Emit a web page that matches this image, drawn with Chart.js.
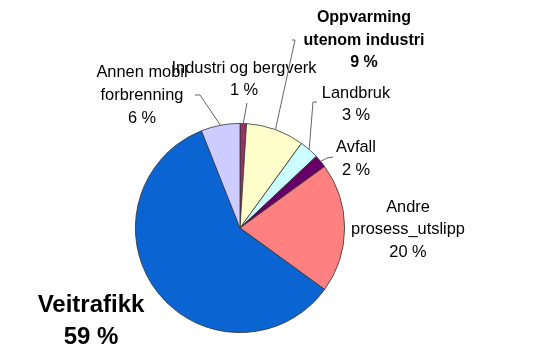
<!DOCTYPE html>
<html><head><meta charset="utf-8">
<script src="https://cdn.jsdelivr.net/npm/chart.js@4/dist/chart.umd.min.js"></script>
<style>html,body{margin:0;padding:0;background:#fff}#wrap{width:540px;height:358px;position:relative}</style>
</head><body><div id="wrap"><canvas id="c" width="540" height="358"></canvas></div>
<script>
const categories = ["Industri og bergverk", "Oppvarming\nutenom industri", "Landbruk", "Avfall", "Andre\nprosess_utslipp", "Veitrafikk", "Annen mobil\nforbrenning"];
const values = [1, 9, 3, 2, 20, 59, 6];
const colors = ["#993366", "#FFFFCC", "#CCFFFF", "#660066", "#FF8080", "#0A64D2", "#CCCCFF"];

// label layout (text centre x, first-line y, line height, font, leader elbow points)
const labelLayout = [
  {x: 244, y: 68, lh: 22, font: "16.4px 'Liberation Sans', Arial", leader: [[247, 103]]},
  {x: 364, y: 18, lh: 22.5, font: "bold 16px 'Liberation Sans', Arial", leader: [[295, 40], [292, 40]]},
  {x: 356, y: 93, lh: 22, font: "16.4px 'Liberation Sans', Arial", leader: [[313, 102], [317, 102]]},
  {x: 356, y: 147, lh: 23, font: "16.4px 'Liberation Sans', Arial", leader: [[327, 158], [333, 157]]},
  {x: 408, y: 207, lh: 22.5, font: "16.4px 'Liberation Sans', Arial", leader: null},
  {x: 91, y: 305, lh: 32, font: "bold 24px 'Liberation Sans', Arial", leader: null},
  {x: 142, y: 72, lh: 23, font: "16.4px 'Liberation Sans', Arial", leader: [[200, 95], [195, 95]]}
];

const labelPlugin = {
  id: 'outLabels',
  afterDraw(chart) {
    const ctx = chart.ctx;
    const meta = chart.getDatasetMeta(0);
    ctx.save();
    meta.data.forEach((arc, i) => {
      const L = labelLayout[i];
      if (L.leader) {
        const mid = (arc.startAngle + arc.endAngle) / 2;
        const px = arc.x + Math.cos(mid) * arc.outerRadius;
        const py = arc.y + Math.sin(mid) * arc.outerRadius;
        ctx.beginPath();
        ctx.strokeStyle = '#666';
        ctx.lineWidth = 1;
        ctx.moveTo(px, py);
        L.leader.forEach(p => ctx.lineTo(p[0], p[1]));
        ctx.stroke();
      }
      const lines = categories[i].split('\n').concat([values[i] + ' %']);
      ctx.font = L.font;
      ctx.fillStyle = '#000';
      ctx.textAlign = 'center';
      ctx.textBaseline = 'middle';
      lines.forEach((t, k) => ctx.fillText(t, L.x, L.y + k * L.lh));
    });
    ctx.restore();
  }
};

new Chart(document.getElementById('c'), {
  type: 'pie',
  data: {
    labels: categories,
    datasets: [{
      data: values,
      backgroundColor: colors,
      borderColor: '#333',
      borderWidth: 0.8
    }]
  },
  options: {
    responsive: false,
    animation: false,
    events: [],
    layout: {padding: {top: 123, bottom: 25, left: 135, right: 195}},
    plugins: {legend: {display: false}, tooltip: {enabled: false}}
  },
  plugins: [labelPlugin]
});
</script></body></html>
